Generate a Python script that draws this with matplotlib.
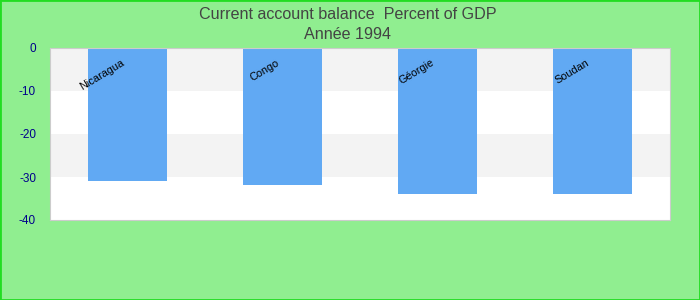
import matplotlib
matplotlib.use("Agg")
import matplotlib.pyplot as plt
from matplotlib.patches import Rectangle

plt.rcParams["font.family"] = ["Liberation Sans", "DejaVu Sans"]

countries = ["Nicaragua", "Congo", "Géorgie", "Soudan"]
values = [-30.9, -31.8, -33.9, -33.9]
yticks = [0, -10, -20, -30, -40]

fig = plt.figure(figsize=(7, 3), dpi=100, facecolor="#90ee90")
fig.patches.append(Rectangle((0, 0), 1, 1, transform=fig.transFigure, fill=False,
                             edgecolor="#22dd22", linewidth=2))
ax = fig.add_axes([50/700, 80/300, 620/700, 172/300])
ax.set_facecolor("white")
x = list(range(len(countries)))
ax.set_xlim(-0.5, len(countries) - 0.5)
ax.set_ylim(-40, 0)
for lo in (-10, -30):
    ax.axhspan(lo, lo + 10, color="#f3f3f3", zorder=0, lw=0)
ax.bar(x, values, width=0.51, color="#61a9f3", zorder=2)
for xi, name in zip(x, countries):
    ax.text(xi - 0.015, -3.8, name, rotation=31, rotation_mode="anchor",
            ha="right", va="baseline", fontsize=7.8, color="black", zorder=3)
ax.set_yticks(yticks)
ax.set_yticklabels([str(t) for t in yticks], color="#00008b", fontsize=8.5)
ax.tick_params(axis="y", length=0, pad=10)
ax.set_xticks([])
for s in ax.spines.values():
    s.set_color("#cccccc")
fig.text(0.497, 0.953, "Current account balance  Percent of GDP", ha="center", va="center",
         fontsize=11.6, color="#444444")
fig.text(0.497, 0.886, "Année 1994", ha="center", va="center", fontsize=11.6, color="#444444")
fig.savefig("out.png", dpi=100, facecolor=fig.get_facecolor())
